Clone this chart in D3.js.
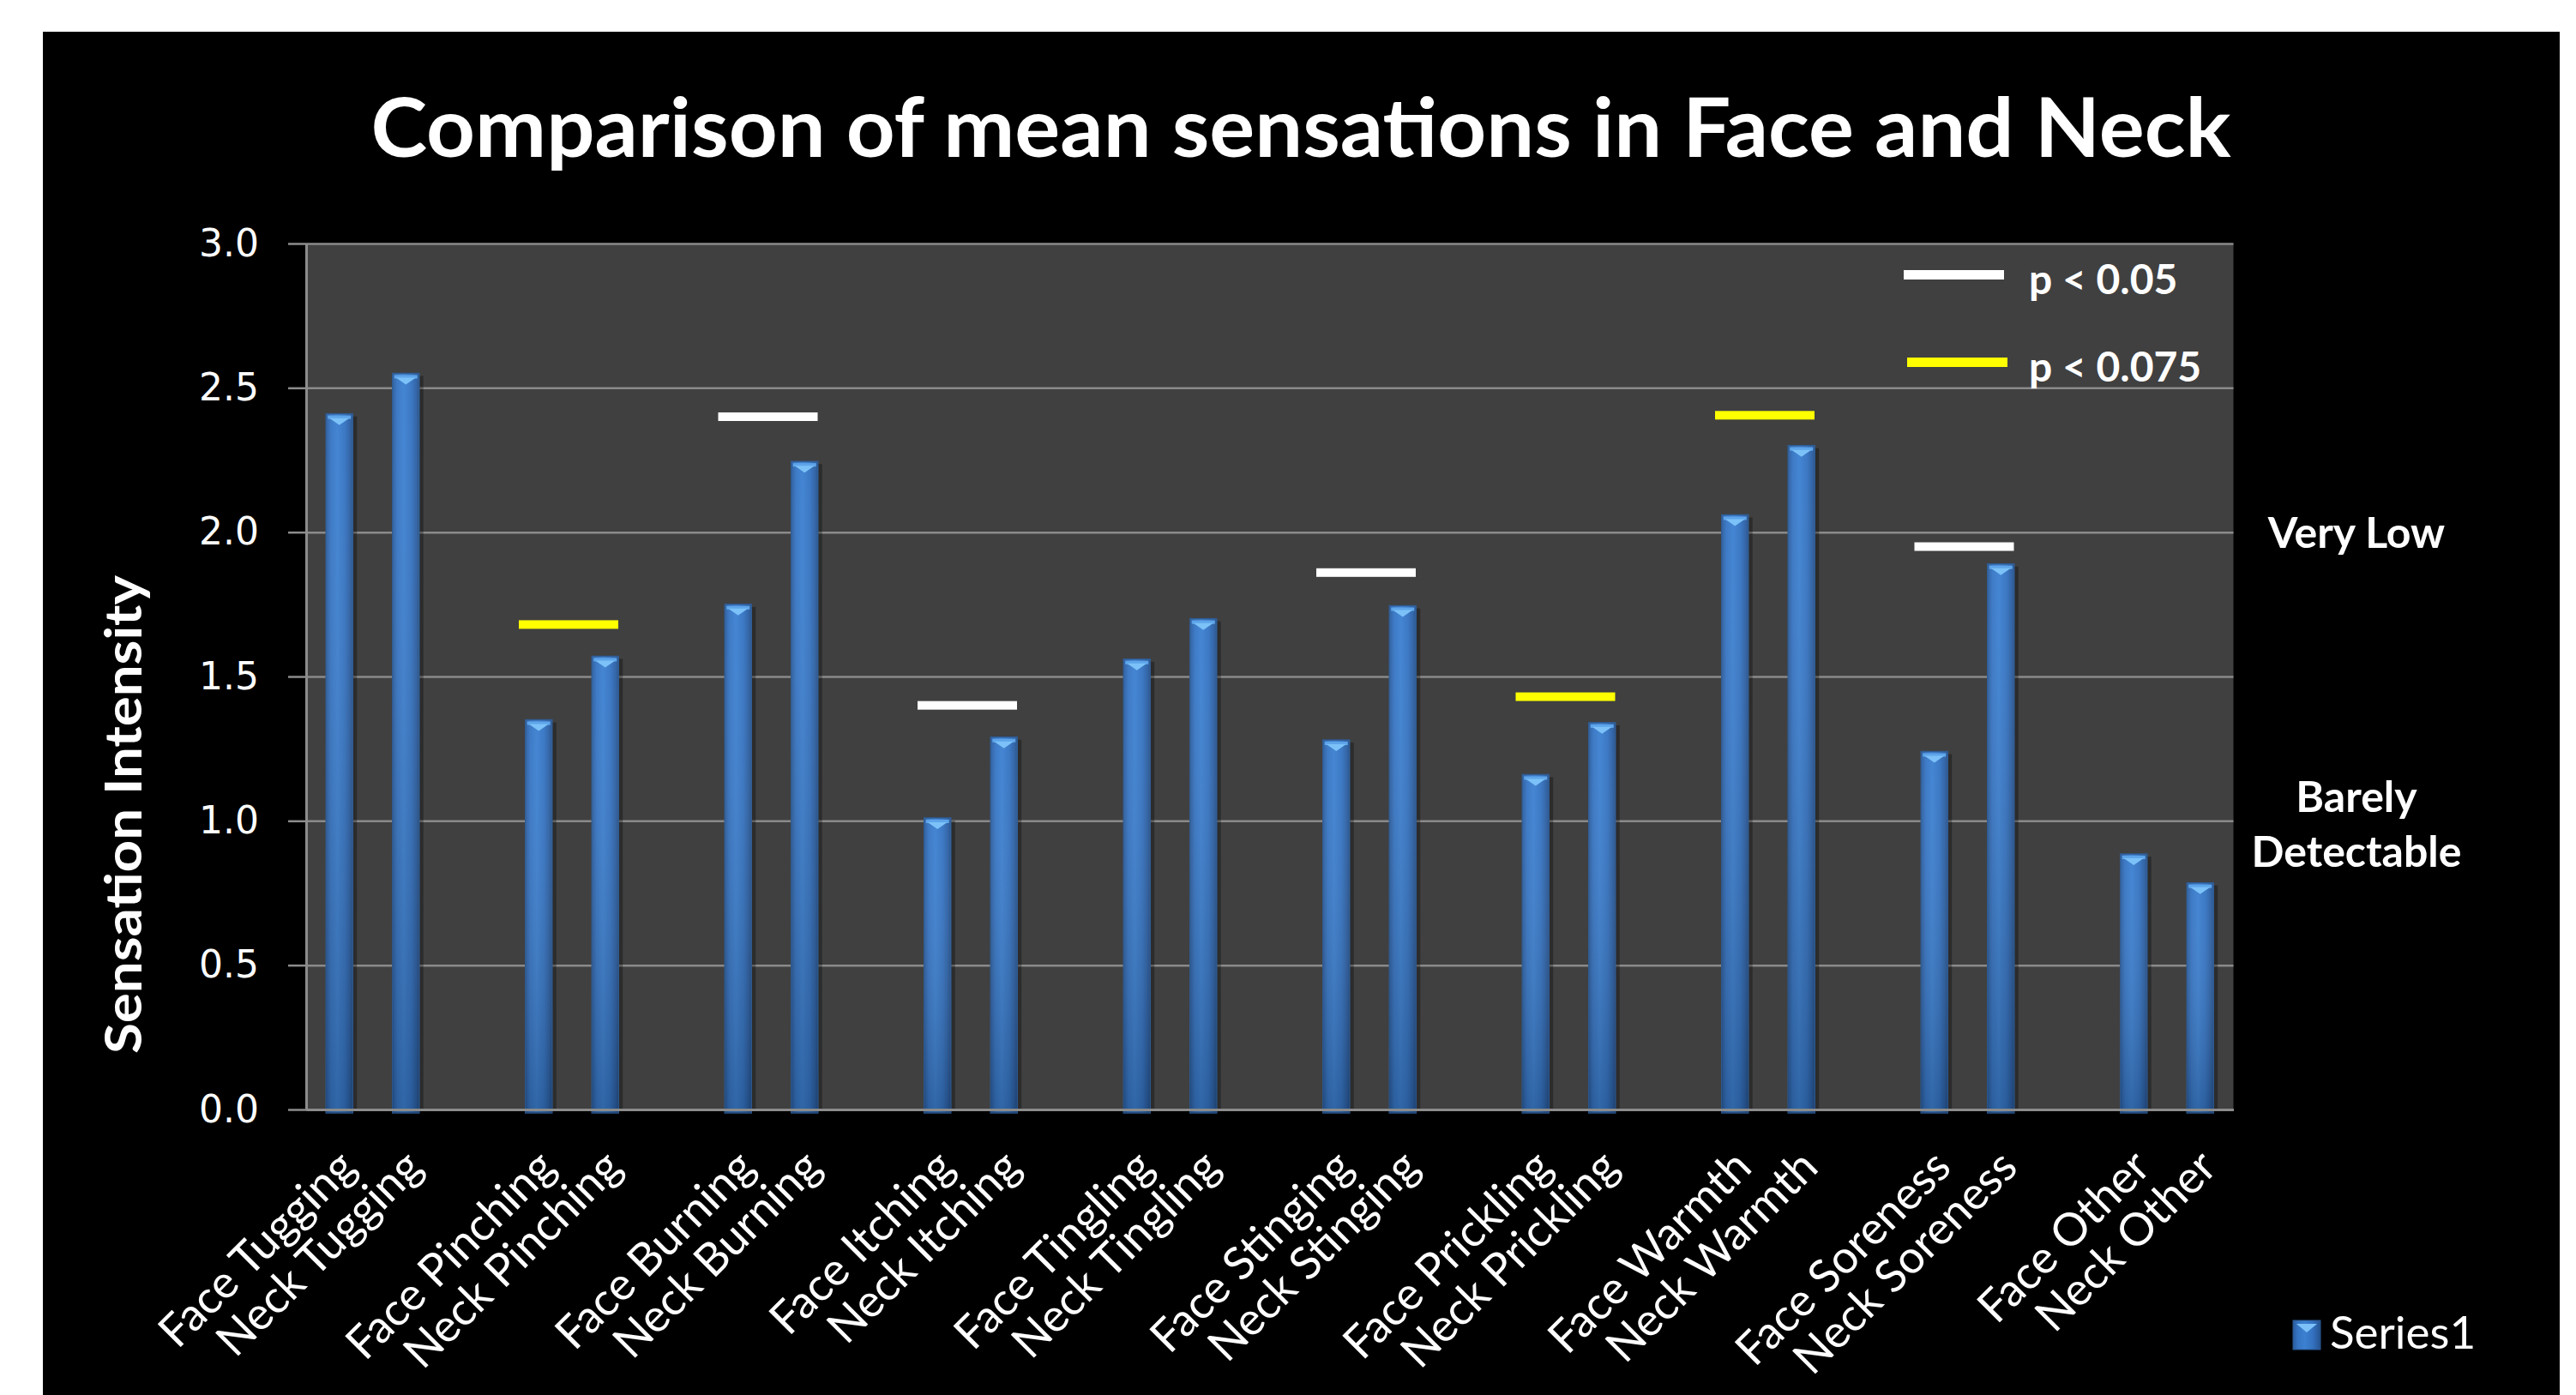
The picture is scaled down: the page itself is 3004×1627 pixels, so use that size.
<!DOCTYPE html>
<html>
<head>
<meta charset="utf-8">
<script src="https://cdn.jsdelivr.net/npm/d3@7"></script>
<style>
  html, body { margin: 0; padding: 0; background: #fff; }
  svg { display: block; }
</style>
</head>
<body>
<svg id="chart"></svg>
<script>
// chart data
const sensations = ['Tugging', 'Pinching', 'Burning', 'Itching', 'Tingling', 'Stinging', 'Prickling', 'Warmth', 'Soreness', 'Other'];
const faceMeans = [2.41, 1.35, 1.75, 1.01, 1.56, 1.28, 1.16, 2.06, 1.24, 0.885];
const neckMeans = [2.55, 1.57, 2.245, 1.29, 1.70, 1.745, 1.34, 2.30, 1.89, 0.785];
const sigLevel = [null, 'p < 0.075', 'p < 0.05', 'p < 0.05', null, 'p < 0.05', 'p < 0.075', 'p < 0.075', 'p < 0.05', null];
const sigMarkAt = [null, 1.68, 2.40, 1.40, null, 1.86, 1.43, 2.405, 1.95, null];
const sigKeys = ['p < 0.05', 'p < 0.075'];
const yTicks = [0, 0.5, 1.0, 1.5, 2.0, 2.5, 3.0];
const intensityAt = [2.0, 1.0];
const intensityNames = [['Very Low'], ['Barely', 'Detectable']];
const seriesName = 'Series1';
const title = 'Comparison of mean sensations in Face and Neck';
const yTitle = 'Sensation Intensity';

const WIDTH = 3004, HEIGHT = 1627;
const margin = { top: 284, right: 399.5, bottom: 333, left: 357 };
const width = WIDTH - margin.left - margin.right,
      height = HEIGHT - margin.top - margin.bottom;
const FONT = 'Lato, "Open Sans", sans-serif';

const sigColor = d3.scaleOrdinal().domain(sigKeys).range(['#ffffff', '#ffff00']);

// one slot per bar, with an empty slot between each face/neck pair
const rows = [];
const slots = [];
sensations.forEach((s, i) => {
  rows.push({ key: 'Face ' + s, value: faceMeans[i], group: i });
  rows.push({ key: 'Neck ' + s, value: neckMeans[i], group: i });
  slots.push('Face ' + s, 'Neck ' + s);
  if (i < sensations.length - 1) slots.push('gap-' + i);
});

const svg = d3.select('#chart')
    .attr('width', WIDTH)
    .attr('height', HEIGHT)
    .style('font-family', FONT);

svg.append('rect').attr('width', WIDTH).attr('height', HEIGHT).attr('fill', '#fff');
svg.append('rect')
    .attr('x', 50).attr('y', 37)
    .attr('width', 2935).attr('height', HEIGHT - 37)
    .attr('fill', '#000');

const defs = svg.append('defs');
const gh = defs.append('linearGradient').attr('id', 'barH').attr('x1', 0).attr('x2', 1).attr('y1', 0).attr('y2', 0);
[['0%', '#2a5c9e'], ['18%', '#3675c4'], ['42%', '#3c80d1'], ['70%', '#3473c2'], ['90%', '#2b5fa3'], ['100%', '#244e88']]
  .forEach(([o, c]) => gh.append('stop').attr('offset', o).attr('stop-color', c));
const gv = defs.append('linearGradient').attr('id', 'barV').attr('x1', 0).attr('x2', 0).attr('y1', 0).attr('y2', 1);
gv.append('stop').attr('offset', '0%').attr('stop-color', '#fff').attr('stop-opacity', 0.04);
gv.append('stop').attr('offset', '100%').attr('stop-color', '#000').attr('stop-opacity', 0.2);

const g = svg.append('g').attr('transform', `translate(${margin.left},${margin.top})`);

const x = d3.scaleBand()
    .domain(slots)
    .range([0, width])
    .paddingInner(0.6)
    .paddingOuter(0.3);

const y = d3.scaleLinear()
    .domain([0, 3])
    .range([height, 0]);

// plot area
g.append('rect')
    .attr('width', width).attr('height', height)
    .attr('fill', '#404040');

// gridlines
g.append('g')
    .call(d3.axisLeft(y).tickValues(yTicks).tickSize(-width).tickFormat(''))
    .call(a => a.select('.domain').remove())
    .selectAll('line')
    .attr('stroke', '#8a8a8a')
    .attr('stroke-width', 2.5);

// y axis
g.append('g')
    .call(d3.axisLeft(y).tickValues(yTicks).tickSize(21).tickSizeOuter(0).tickPadding(34).tickFormat(d3.format('.1f')))
    .call(a => a.select('.domain').attr('stroke', '#8c8c8c').attr('stroke-width', 3))
    .call(a => a.selectAll('line').attr('stroke', '#8c8c8c').attr('stroke-width', 2.5))
    .selectAll('text')
    .attr('fill', '#fff')
    .style('font-family', '"DejaVu Sans", sans-serif')
    .style('font-size', '44px');

// bars
const bw = x.bandwidth();
const bar = g.selectAll('.bar')
    .data(rows)
    .join('g')
    .attr('class', 'bar')
    .attr('transform', d => `translate(${x(d.key)},0)`);

bar.append('rect')
    .attr('x', bw - 1).attr('y', d => y(d.value) + 3)
    .attr('width', 6).attr('height', d => height - y(d.value) - 3)
    .attr('fill', '#000').attr('opacity', 0.3);
bar.append('rect')
    .attr('y', d => y(d.value))
    .attr('width', bw).attr('height', d => height - y(d.value) + 4)
    .attr('fill', 'url(#barH)')
    .attr('stroke', '#2c5a94').attr('stroke-width', 1.5);
bar.append('rect')
    .attr('y', d => y(d.value))
    .attr('width', bw).attr('height', d => height - y(d.value) + 4)
    .attr('fill', 'url(#barV)');
bar.append('rect')
    .attr('x', 2).attr('y', d => y(d.value) + 2)
    .attr('width', bw - 4).attr('height', 4)
    .attr('fill', '#5ea5ea');
bar.append('path')
    .attr('d', d => {
      const t = y(d.value);
      return `M4,${t + 5}L${bw - 4},${t + 5}L${bw / 2},${t + 13}Z`;
    })
    .attr('fill', '#7cc2f8');

// x axis
g.append('g')
    .attr('transform', `translate(0,${height})`)
    .call(d3.axisBottom(x).tickSize(0).tickFormat(k => k.startsWith('gap-') ? '' : k))
    .call(a => a.select('.domain').attr('stroke', '#8c8c8c').attr('stroke-width', 3))
    .selectAll('text')
    .attr('y', null)
    .attr('dy', null)
    .attr('text-anchor', 'end')
    .attr('transform', 'translate(22,70) rotate(-45)')
    .attr('fill', '#fff')
    .style('font-family', FONT)
    .style('font-size', '53px');

// significance marks over pairs
const sigIdx = sigMarkAt.map((v, i) => i).filter(i => sigMarkAt[i] !== null);
g.selectAll('.sig')
    .data(sigIdx)
    .join('rect')
    .attr('class', 'sig')
    .attr('x', i => (x('Face ' + sensations[i]) + x('Neck ' + sensations[i]) + bw) / 2 - 62)
    .attr('y', i => y(sigMarkAt[i]) - 5)
    .attr('width', 116)
    .attr('height', 10)
    .attr('fill', i => sigColor(sigLevel[i]));

// significance key
const key = svg.append('g').attr('transform', 'translate(2220,320)');
const keyItem = key.selectAll('g')
    .data(sigKeys)
    .join('g')
    .attr('transform', (d, i) => `translate(0,${i * 102})`);
keyItem.append('rect')
    .attr('x', (d, i) => i * 4).attr('y', -5)
    .attr('width', 117).attr('height', 11)
    .attr('fill', d => sigColor(d));
keyItem.append('text')
    .attr('x', 146).attr('y', 6).attr('dy', '0.36em')
    .attr('fill', '#fff')
    .style('font-weight', 'bold')
    .style('font-size', '48px')
    .text(d => d);

// intensity labels on the right
const IX = 2748 - margin.left;
const intens = g.selectAll('.intensity')
    .data(intensityAt)
    .join('text')
    .attr('class', 'intensity')
    .attr('x', IX)
    .attr('y', (d, i) => y(d) - (intensityNames[i].length - 1) * 28)
    .attr('text-anchor', 'middle')
    .attr('fill', '#fff')
    .style('font-weight', 'bold')
    .style('font-size', '50px');
intens.selectAll('tspan')
    .data((d, i) => intensityNames[i])
    .join('tspan')
    .attr('x', IX)
    .attr('dy', (d, j) => j === 0 ? '0.36em' : 64)
    .text(d => d);

// title
svg.append('text')
    .attr('x', 1517).attr('y', 183)
    .attr('text-anchor', 'middle')
    .attr('textLength', 2169)
    .attr('lengthAdjust', 'spacingAndGlyphs')
    .attr('fill', '#fff')
    .style('font-weight', 'bold')
    .style('font-size', '96px')
    .text(title);

// y title
svg.append('text')
    .attr('transform', 'translate(165,950) rotate(-90)')
    .attr('text-anchor', 'middle')
    .attr('textLength', 558)
    .attr('lengthAdjust', 'spacingAndGlyphs')
    .attr('fill', '#fff')
    .style('font-weight', 'bold')
    .style('font-size', '60px')
    .text(yTitle);

// series legend
const leg = svg.append('g').attr('transform', 'translate(2674,1540)');
leg.append('rect').attr('width', 32).attr('height', 34).attr('fill', 'url(#barH)').attr('stroke', '#2c5a94');
leg.append('path').attr('d', 'M4,4L28,4L16,14Z').attr('fill', '#7cc2f8');
leg.append('text')
    .attr('x', 43).attr('y', 33)
    .attr('fill', '#fff')
    .style('font-size', '53px')
    .text(seriesName);
</script>
</body>
</html>
